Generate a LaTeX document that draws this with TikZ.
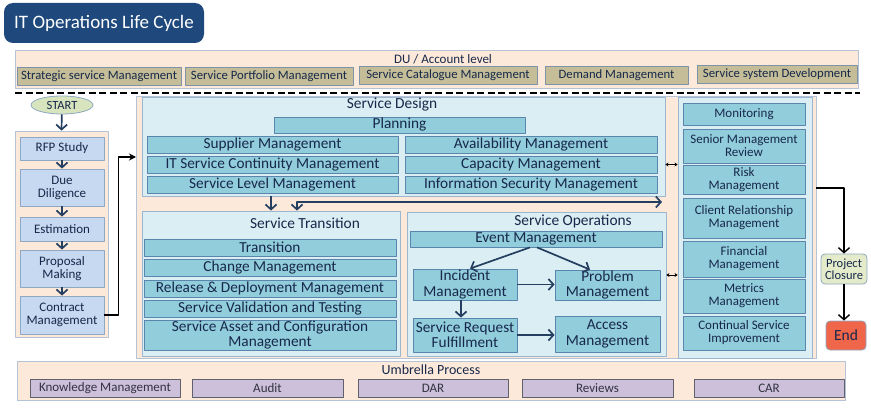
\documentclass[tikz,border=0pt]{standalone}
\usepackage{fontspec}
\setmainfont{Carlito}
\usetikzlibrary{arrows.meta,shapes.geometric}
\definecolor{titleblue}{HTML}{1F497D}
\definecolor{bandpeach}{HTML}{FDE9D9}
\definecolor{peachedge}{HTML}{B4C3D6}
\definecolor{tanfill}{HTML}{C4BD97}
\definecolor{tanedge}{HTML}{7F93A8}
\definecolor{lanefill}{HTML}{DAEEF3}
\definecolor{laneedge}{HTML}{9DB6CF}
\definecolor{taskfill}{HTML}{92CDDC}
\definecolor{taskedge}{HTML}{5A86AE}
\definecolor{phasefill}{HTML}{C6D9F1}
\definecolor{phaseedge}{HTML}{8EA9C1}
\definecolor{startfill}{HTML}{D7E4BD}
\definecolor{closurefill}{HTML}{E4EBCB}
\definecolor{endfill}{HTML}{F0664A}
\definecolor{umbrellafill}{HTML}{CCC0DA}
\definecolor{umbrellaedge}{HTML}{60606A}
\definecolor{umbrellatext}{HTML}{333340}
\definecolor{flownavy}{HTML}{243F60}
\definecolor{textnavy}{HTML}{17284A}

\begin{document}
\begin{tikzpicture}[
  x=1pt,
  y=-1pt,
  line join=round,
  wh/.style 2 args={minimum width=#1pt,minimum height=#2pt,inner sep=0pt},
  band/.style={fill=bandpeach,draw=peachedge,line width=0.7pt},
  lane/.style={fill=lanefill,draw=laneedge,line width=0.8pt},
  tanbox/.style={fill=tanfill,draw=tanedge,line width=0.8pt,text=textnavy,font=\fontsize{12.7}{13}\selectfont},
  phasebox/.style={fill=phasefill,draw=phaseedge,line width=0.8pt,text=textnavy,align=center,font=\fontsize{13}{13}\selectfont},
  task/.style={fill=taskfill,draw=taskedge,line width=0.8pt,text=textnavy,align=center,font=\fontsize{15.3}{15.5}\selectfont},
  sidetask/.style={task,font=\fontsize{13}{13}\selectfont},
  lanetitle/.style={text=textnavy,inner sep=0pt,font=\fontsize{15.4}{16}\selectfont},
  umbox/.style={fill=umbrellafill,draw=umbrellaedge,line width=0.8pt,text=umbrellatext,font=\fontsize{13}{13}\selectfont},
  flow/.style={draw=flownavy,line width=1.7pt,-{Straight Barb[length=5pt,width=11pt]}},
  elbow/.style={draw=black,line width=1.4pt},
  link/.style={draw=black,line width=0.7pt,{Stealth[length=3pt,width=4pt]}-{Stealth[length=3pt,width=4pt]}}
]
  \useasboundingbox[fill=white] (0,0) rectangle (871,409);

  % Title banner.
  \node[wh={200}{40},rounded corners=9pt,fill=titleblue,text=white,font=\fontsize{19}{20}\selectfont] (title) at (104,23) {IT Operations Life Cycle};

  % DU / Account level band.
  \node[band,wh={843}{38}] (du) at (436.5,69) {};
  \node[text=textnavy,inner sep=0pt,font=\fontsize{13}{13}\selectfont] (dulabel) at (443,59) {DU / Account level};
  \foreach \name/\cx/\cy/\w/\txt in {ssm/99/76/164/Strategic service Management,
      spm/269/76/168/Service Portfolio Management,
      scm/448/75/178/Service Catalogue Management,
      dm/616.5/75.5/143/Demand Management,
      ssd/777/74/160/Service system Development} {
    \node[tanbox,wh={\w}{18}] (\name) at (\cx,\cy) {\txt};
  }

  % Separator between account level and delivery.
  \draw[line width=2pt,dash pattern=on 7pt off 3.5pt] (15,93) -- (860,93);

  % Pre-sales column.
  \node[ellipse,wh={62}{18},fill=startfill,draw=phaseedge,line width=0.8pt,text=textnavy,font=\fontsize{12.5}{13}\selectfont] (start) at (62,105) {START};
  \node[band,wh={93}{206}] (presales) at (61.5,234) {};
  \node[phasebox,wh={84}{23}] (rfp) at (62,148.5) {RFP Study};
  \node[phasebox,wh={84}{37}] (due) at (62,187.5) {Due\\Diligence};
  \node[phasebox,wh={84}{24}] (est) at (62,229) {Estimation};
  \node[phasebox,wh={84}{37}] (prop) at (62,268.5) {Proposal\\Making};
  \node[phasebox,wh={84}{38}] (contract) at (62,315) {Contract\\Management};

  % Delivery area and its lanes.
  \node[band,wh={680}{262}] (main) at (476,227) {};
  \node[lane,wh={523}{99}] (sd) at (403.5,146.5) {};
  \node[lane,wh={258}{145}] (st) at (271,283.5) {};
  \node[lane,wh={259}{144}] (so) at (536.5,284) {};
  \node[lane,wh={134}{261}] (rcol) at (745,227.5) {};

  % Service Design.
  \node[lanetitle] (sdtitle) at (392,105) {Service Design};
  \node[task,wh={251}{16}] (planning) at (399.5,125) {Planning};
  \node[task,wh={251}{17}] (supplier) at (272.5,144.5) {Supplier Management};
  \node[task,wh={251}{17}] (continuity) at (272.5,164.5) {IT Service Continuity Management};
  \node[task,wh={251}{17}] (level) at (272.5,184.5) {Service Level Management};
  \node[task,wh={252}{17}] (availability) at (531,144.5) {Availability Management};
  \node[task,wh={252}{17}] (capacity) at (531,164.5) {Capacity Management};
  \node[task,wh={252}{17}] (security) at (531,184.5) {Information Security Management};

  % Service Transition.
  \node[lanetitle] (sttitle) at (305,223) {Service Transition};
  \node[task,wh={252}{17}] (transition) at (270,247.5) {Transition};
  \node[task,wh={252}{17}] (change) at (270,267.5) {Change Management};
  \node[task,wh={252}{17}] (release) at (270,288.5) {Release \& Deployment Management};
  \node[task,wh={252}{17}] (validation) at (270,308.5) {Service Validation and Testing};
  \node[task,wh={252}{30}] (asset) at (270,335) {Service Asset and Configuration\\Management};

  % Service Operations.
  \node[lanetitle] (sotitle) at (573,221) {Service Operations};
  \node[task,wh={252}{16}] (event) at (536,239) {Event Management};
  \node[task,wh={104}{31}] (incident) at (465,284.5) {Incident\\Management};
  \node[task,wh={105}{30}] (problem) at (607.5,285) {Problem\\Management};
  \node[task,wh={104}{34}] (srf) at (465,335) {Service Request\\Fulfillment};
  \node[task,wh={105}{36}] (access) at (607.5,334) {Access\\Management};

  % Governance column.
  \node[sidetask,wh={122}{22}] (monitoring) at (744,114) {Monitoring};
  \node[sidetask,wh={122}{34}] (review) at (744,146) {Senior Management\\Review};
  \node[sidetask,wh={122}{29}] (risk) at (744,179.5) {Risk\\Management};
  \node[sidetask,wh={122}{40}] (client) at (744,218) {Client Relationship\\Management};
  \node[sidetask,wh={122}{36}] (financial) at (744,259) {Financial\\Management};
  \node[sidetask,wh={122}{34}] (metrics) at (744,296) {Metrics\\Management};
  \node[sidetask,wh={122}{34}] (csi) at (744,333) {Continual Service\\Improvement};

  % Closure and end.
  \node[wh={46}{30},rounded corners=4pt,fill=closurefill,draw=phaseedge,line width=0.8pt,text=textnavy,align=center,font=\fontsize{12.5}{12.5}\selectfont] (closure) at (844,269) {Project\\Closure};
  \node[wh={40}{29},rounded corners=4pt,fill=endfill,draw=phaseedge,line width=0.8pt,text=textnavy,font=\fontsize{15.5}{16}\selectfont] (end) at (846,335.5) {End};

  % Umbrella process band.
  \node[band,wh={828}{39}] (umbrella) at (431,380.5) {};
  \node[text=textnavy,inner sep=0pt,font=\fontsize{14}{14}\selectfont] (umlabel) at (431,370) {Umbrella Process};
  \foreach \name/\cx/\w/\txt in {knowledge/105/150/Knowledge Management,
      audit/267.5/151/Audit,
      dar/433/150/DAR,
      reviews/597.5/151/Reviews,
      car/769/150/CAR} {
    \node[umbox,wh={\w}{18}] (\name) at (\cx,388) {\txt};
  }

  % Pre-sales flow.
  \draw[flow] (start) -- (presales.north);
  \draw[flow] (rfp) -- (due);
  \draw[flow] (due) -- (est);
  \draw[flow] (est) -- (prop);
  \draw[flow] (prop) -- (contract);
  \coordinate (sdin) at (136,157);
  \draw[elbow,-{Stealth[length=7pt,width=7pt]}] (contract.east) -- ++(14,0) |- (sdin);

  % Design feeds transition and operations.
  \coordinate (soin) at (662,202);
  \draw[flow] (sd.south -| st.north) -- (st.north);
  \draw[flow,{Straight Barb[length=5pt,width=11pt]}-{Straight Barb[length=5pt,width=11pt]}] ([xshift=26pt]st.north) |- (soin);
  \draw[link] (capacity.east -| sd.east) -- (capacity.east -| rcol.west);
  \draw[link] ([yshift=9.5pt]incident.east -| so.east) -- ([yshift=9.5pt]incident.east -| rcol.west);

  % Operations flow.
  \draw[flow] ([xshift=-6pt]event.south) -- ([xshift=5pt]incident.north);
  \draw[flow] ([xshift=1pt]event.south) -- ([xshift=-17.5pt]problem.north);
  \draw[flow] (incident.east) -- (incident.east -| problem.west);
  \draw[flow] ([xshift=-4pt]incident.south) -- ([xshift=-4pt]srf.north);
  \draw[flow] (srf.east) -- (srf.east -| access.west);

  % Governance to closure.
  \draw[elbow,-{Straight Barb[length=5pt,width=11pt]}] ([yshift=-8.5pt]risk.east -| main.east) -| (closure.north);
  \draw[elbow,-{Straight Barb[length=5pt,width=11pt]}] (closure.south) -- (closure.south |- end.north);
\end{tikzpicture}
\end{document}
